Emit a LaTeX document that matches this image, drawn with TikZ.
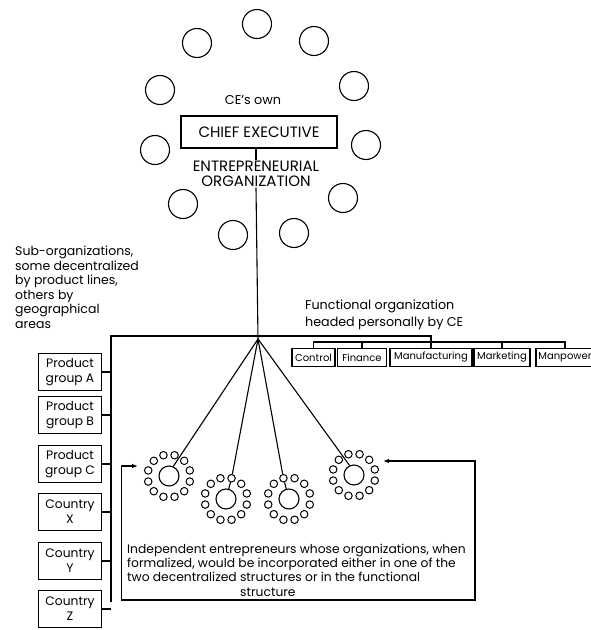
\documentclass[tikz,border=0pt]{standalone}
\usepackage{fontspec}
\setmainfont{Poppins}
\usetikzlibrary{arrows.meta}
\begin{document}
\begin{tikzpicture}[x=1pt,y=-1pt,
  wire/.style={line width=1.1pt},
  ringc/.style={circle,draw,line width=1.1pt,minimum size=29pt,inner sep=0pt},
  bigc/.style={circle,draw,line width=1.1pt,minimum size=20pt,inner sep=0pt},
  dotc/.style={circle,draw,line width=1pt,minimum size=7.5pt,inner sep=0pt},
  subbox/.style={draw,line width=1.1pt,minimum width=63pt,minimum height=37pt,align=center,
    font=\fontsize{12.3}{15}\selectfont,inner sep=1pt},
  funcbox/.style={draw,line width=1.1pt,minimum height=18.5pt,inner sep=1pt,
    font=\fontsize{10}{11}\selectfont},
  note/.style={font=\fontsize{12.5}{14.5}\selectfont,align=left,inner sep=0pt},
  ]
\useasboundingbox (0,0) rectangle (590,630);

% ring of advisers around the chief executive
\foreach \n/\x/\y in {r1/257/24, r2/197/43, r3/314/41, r4/160/90, r5/354/86,
  r6/155/150, r7/366/145, r8/183/204, r9/343/198, r10/233/235, r11/294/233}
  \node[ringc] (\n) at (\x,\y) {};

\node[note,anchor=center,font=\fontsize{12.8}{14}\selectfont] (own) at (253,100) {CE's own};
\node[draw,line width=1.1pt,minimum width=156pt,minimum height=32pt,
  font=\fontsize{15}{17}\selectfont] (ce) at (259,132) {CHIEF EXECUTIVE};
\node[align=center,inner sep=1pt,font=\fontsize{15}{14.5}\selectfont] (ent) at (256,174)
  {ENTREPRENEURIAL\\ORGANIZATION};
\coordinate (hub) at (258,339);
\draw[wire] (ce.south -| ent.north) -- (ent.north);
\draw[wire] (ent.south) -- (hub);

% sub-organizations on the left
\node[note,anchor=north west] (subnote) at (15,246)
  {Sub-organizations,\\some decentralized\\by product lines,\\others by\\geographical\\areas};
\coordinate (ltop) at (111,336);
\coordinate (lbot) at (111,602);
\draw[wire] (hub |- ltop) -- (ltop) -- (lbot);
\foreach \n/\y/\t in {pa/372/{Product\\group A}, pb/415/{Product\\group B},
  pc/464/{Product\\group C}, cx/512/{Country\\X}, cy/561/{Country\\Y}, cz/609/{Country\\Z}}
{
  \node[subbox] (\n) at (70,\y) {\t};
  \draw[wire] (\n.east) -- (\n.east -| ltop);
}

% functional organization on the right
\node[note,anchor=north west,font=\fontsize{12.7}{16.5}\selectfont] (fnote) at (305,300)
  {Functional organization\\headed personally by CE};
\node[funcbox,minimum width=43pt] (f1) at (313.5,357.5) {Control};
\node[funcbox,minimum width=49pt] (f2) at (362,357.5) {Finance};
\node[funcbox,minimum width=82pt] (f3) at (431,357.5) {Manufacturing};
\node[funcbox,minimum width=56pt] (f4) at (502,357.5) {Marketing};
\node[funcbox,minimum width=58pt] (f5) at (565,357.5) {Manpower};
\coordinate (fbar) at (0,342);
\draw[wire] (hub |- ltop) -| (f3.north);
\draw[wire] (f1.north) -- (f1.north |- fbar) -- (f5.north |- fbar) -- (f5.north);
\foreach \f in {f2,f4} \draw[wire] (\f.north) -- (\f.north |- fbar);

% independent entrepreneurs with their own small organizations
\foreach \k/\x/\y in {1/169/476, 2/226/499, 3/289/499, 4/354/475}
{
  \node[bigc] (c\k) at (\x,\y) {};
  \foreach \a [count=\i] in {15,45,...,345}
    \node[dotc] (c\k-\i) at ([shift={(\a:21.5)}]c\k.center) {};
}
\draw[wire] (hub) -- (c1.66);
\draw[wire] (hub) -- (c2-10);
\draw[wire] (c2-10) -- (c2);
\draw[wire] (hub) -- (c3-9);
\draw[wire] (c3-9) -- (c3);
\draw[wire] (hub) -- (c4.115);

\node[note,anchor=north west,font=\fontsize{12.3}{14.2}\selectfont] (indep) at (127,544)
  {Independent entrepreneurs whose organizations, when\\
   formalized, would be incorporated either in one of the\\
   two decentralized structures or in the functional\\
   \hspace*{113pt}structure};
\coordinate (in1) at (138,466);
\coordinate (in4) at (383,461);
\coordinate (fbl) at (121.5,600);
\coordinate (fbr) at (475,600);
\draw[wire,{Latex[length=6pt,width=4.5pt]}-{Latex[length=6pt,width=4.5pt]}]
  (in1) -| (fbl) -- (fbr) |- (in4);
\end{tikzpicture}
\end{document}
